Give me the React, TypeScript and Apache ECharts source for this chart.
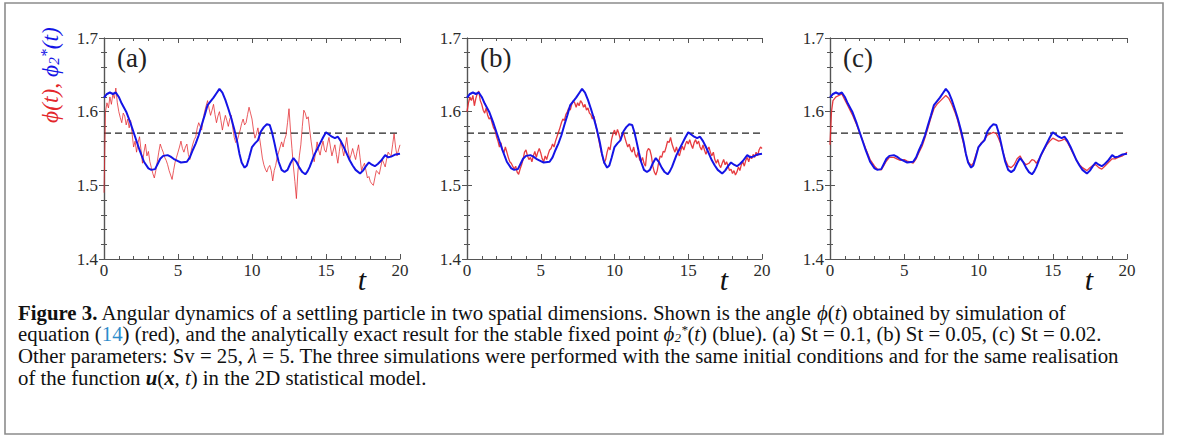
import React, { useEffect, useRef } from "react";
import * as echarts from "echarts";

// φ2*(t): analytic stable fixed point (identical in all three panels)
const T_FIXED = [0, 0.2, 0.4, 0.6, 0.8, 1.0, 1.2, 1.5, 1.8, 2.1, 2.4, 2.7, 3.0, 3.2, 3.45, 3.6, 3.8, 4.0, 4.3, 4.5, 4.7, 5.0, 5.2, 5.6, 5.8, 6.0, 6.2, 6.4, 6.6, 6.8, 7.0, 7.2, 7.4, 7.6, 7.8, 8.0, 8.2, 8.4, 8.6, 8.8, 9.0, 9.15, 9.3, 9.5, 9.65, 9.8, 10.0, 10.2, 10.4, 10.6, 10.8, 11.0, 11.2, 11.35, 11.5, 11.65, 11.8, 12.0, 12.2, 12.4, 12.6, 12.8, 13.0, 13.2, 13.4, 13.6, 13.75, 13.9, 14.2, 14.4, 14.6, 14.8, 15.0, 15.2, 15.4, 15.6, 15.8, 16.0, 16.2, 16.4, 16.6, 16.8, 17.0, 17.3, 17.5, 17.7, 17.9, 18.1, 18.3, 18.5, 18.7, 19.0, 19.2, 19.4, 19.7, 20.0];
const PHI_FIXED = [1.619, 1.624, 1.626, 1.624, 1.626, 1.620, 1.611, 1.600, 1.584, 1.566, 1.548, 1.532, 1.523, 1.521, 1.522, 1.528, 1.536, 1.540, 1.541, 1.539, 1.536, 1.533, 1.531, 1.532, 1.538, 1.548, 1.557, 1.568, 1.582, 1.595, 1.609, 1.614, 1.619, 1.625, 1.631, 1.626, 1.616, 1.604, 1.591, 1.576, 1.559, 1.543, 1.531, 1.524, 1.527, 1.537, 1.552, 1.557, 1.561, 1.573, 1.579, 1.583, 1.582, 1.572, 1.559, 1.545, 1.532, 1.521, 1.518, 1.521, 1.530, 1.537, 1.532, 1.524, 1.518, 1.515, 1.519, 1.525, 1.541, 1.549, 1.557, 1.565, 1.572, 1.569, 1.566, 1.564, 1.566, 1.560, 1.552, 1.543, 1.534, 1.527, 1.521, 1.516, 1.520, 1.526, 1.531, 1.528, 1.526, 1.529, 1.533, 1.541, 1.538, 1.539, 1.542, 1.543];

// φ(t) sampled every 0.1 time units, St = 0.1
const DT = 0.1;
const PHI_A = [
  1.490, 1.600, 1.612, 1.605, 1.620, 1.610, 1.624, 1.618, 1.632, 1.612,
  1.600, 1.592, 1.585, 1.598, 1.594, 1.582, 1.590, 1.578, 1.588, 1.570,
  1.552, 1.560, 1.545, 1.558, 1.566, 1.548, 1.530, 1.545, 1.556, 1.540,
  1.546, 1.532, 1.524, 1.516, 1.510, 1.520, 1.532, 1.545, 1.556, 1.550,
  1.545, 1.538, 1.534, 1.528, 1.520, 1.514, 1.508, 1.520, 1.531, 1.538,
  1.545, 1.552, 1.560, 1.550, 1.545, 1.552, 1.556, 1.542, 1.535, 1.548,
  1.556, 1.562, 1.566, 1.578, 1.585, 1.580, 1.575, 1.590, 1.600, 1.608,
  1.615, 1.604, 1.595, 1.602, 1.610, 1.596, 1.585, 1.594, 1.600, 1.588,
  1.575, 1.586, 1.595, 1.588, 1.580, 1.590, 1.595, 1.578, 1.565, 1.558,
  1.560, 1.568, 1.575, 1.584, 1.590, 1.582, 1.585, 1.596, 1.606, 1.598,
  1.590, 1.575, 1.564, 1.570, 1.578, 1.566, 1.552, 1.537, 1.528, 1.522,
  1.518, 1.524, 1.527, 1.520, 1.506, 1.520, 1.527, 1.538, 1.545, 1.552,
  1.559, 1.552, 1.562, 1.568, 1.585, 1.604, 1.575, 1.550, 1.525, 1.505,
  1.482, 1.518, 1.540, 1.555, 1.580, 1.602, 1.598, 1.590, 1.593, 1.575,
  1.559, 1.545, 1.532, 1.545, 1.559, 1.548, 1.541, 1.552, 1.560, 1.548,
  1.545, 1.556, 1.565, 1.552, 1.540, 1.548, 1.555, 1.542, 1.530, 1.546,
  1.560, 1.550, 1.540, 1.552, 1.565, 1.548, 1.535, 1.542, 1.550, 1.542,
  1.535, 1.546, 1.555, 1.538, 1.520, 1.526, 1.530, 1.520, 1.510, 1.512,
  1.505, 1.502, 1.500, 1.510, 1.520, 1.518, 1.515, 1.525, 1.535, 1.530,
  1.525, 1.536, 1.545, 1.542, 1.540, 1.555, 1.570, 1.552, 1.540, 1.548,
  1.555,
];

// φ(t) sampled every 0.1 time units, St = 0.05
const PHI_B = [
  1.600, 1.612, 1.620, 1.615, 1.622, 1.608, 1.618, 1.625, 1.628, 1.615,
  1.610, 1.602, 1.598, 1.605, 1.595, 1.590, 1.592, 1.585, 1.578, 1.575,
  1.566, 1.560, 1.552, 1.558, 1.548, 1.544, 1.552, 1.545, 1.538, 1.532,
  1.530, 1.526, 1.522, 1.526, 1.518, 1.515, 1.522, 1.528, 1.535, 1.545,
  1.548, 1.540, 1.535, 1.538, 1.532, 1.540, 1.546, 1.538, 1.545, 1.550,
  1.544, 1.536, 1.532, 1.540, 1.535, 1.542, 1.548, 1.550, 1.556, 1.552,
  1.560, 1.566, 1.572, 1.578, 1.585, 1.590, 1.588, 1.596, 1.600, 1.605,
  1.602, 1.610, 1.615, 1.612, 1.606, 1.612, 1.608, 1.615, 1.612, 1.606,
  1.610, 1.602, 1.605, 1.598, 1.596, 1.590, 1.594, 1.585, 1.575, 1.565,
  1.555, 1.545, 1.538, 1.530, 1.535, 1.545, 1.552, 1.548, 1.562, 1.570,
  1.575, 1.568, 1.576, 1.570, 1.562, 1.568, 1.572, 1.565, 1.558, 1.552,
  1.556, 1.548, 1.545, 1.552, 1.542, 1.538, 1.545, 1.535, 1.532, 1.538,
  1.530, 1.526, 1.546, 1.550, 1.548, 1.540, 1.526, 1.518, 1.514, 1.520,
  1.532, 1.540, 1.538, 1.546, 1.545, 1.552, 1.560, 1.558, 1.565, 1.556,
  1.550, 1.545, 1.552, 1.544, 1.540, 1.548, 1.553, 1.548, 1.555, 1.560,
  1.556, 1.562, 1.555, 1.550, 1.558, 1.562, 1.556, 1.560, 1.552, 1.548,
  1.555, 1.548, 1.542, 1.548, 1.552, 1.545, 1.540, 1.545, 1.535, 1.530,
  1.535, 1.528, 1.524, 1.530, 1.535, 1.528, 1.532, 1.526, 1.520, 1.522,
  1.516, 1.520, 1.514, 1.518, 1.525, 1.520, 1.528, 1.532, 1.526, 1.534,
  1.538, 1.532, 1.540, 1.536, 1.542, 1.538, 1.545, 1.540, 1.548, 1.552,
  1.550,
];

// φ(t) for St = 0.02, closely tracking the fixed point
const T_C = [0, 0.1, 0.2, 0.4, 0.6, 0.8, 1.0, 1.2, 1.5, 1.8, 2.1, 2.4, 2.7, 3.0, 3.2, 3.45, 3.6, 3.8, 4.0, 4.3, 4.5, 4.7, 5.0, 5.2, 5.6, 5.8, 6.0, 6.2, 6.4, 6.6, 6.8, 7.0, 7.2, 7.4, 7.6, 7.8, 8.0, 8.2, 8.4, 8.6, 8.8, 9.0, 9.15, 9.3, 9.5, 9.65, 9.8, 10.0, 10.2, 10.4, 10.6, 10.8, 11.0, 11.2, 11.35, 11.5, 11.65, 11.8, 12.0, 12.2, 12.4, 12.6, 12.8, 13.0, 13.2, 13.4, 13.6, 13.75, 13.9, 14.2, 14.4, 14.6, 14.8, 15.0, 15.2, 15.4, 15.6, 15.8, 16.0, 16.2, 16.4, 16.6, 16.8, 17.0, 17.3, 17.5, 17.7, 17.9, 18.1, 18.3, 18.5, 18.7, 19.0, 19.2, 19.4, 19.7, 20.0];
const PHI_C = [1.555, 1.600, 1.615, 1.620, 1.622, 1.624, 1.616, 1.608, 1.596, 1.582, 1.566, 1.550, 1.535, 1.526, 1.522, 1.521, 1.526, 1.533, 1.538, 1.538, 1.536, 1.534, 1.535, 1.533, 1.530, 1.536, 1.545, 1.553, 1.565, 1.578, 1.592, 1.604, 1.610, 1.614, 1.618, 1.622, 1.618, 1.610, 1.600, 1.588, 1.572, 1.556, 1.542, 1.532, 1.527, 1.530, 1.540, 1.552, 1.558, 1.562, 1.568, 1.570, 1.572, 1.570, 1.564, 1.556, 1.545, 1.535, 1.526, 1.524, 1.528, 1.536, 1.540, 1.532, 1.528, 1.530, 1.535, 1.534, 1.530, 1.540, 1.548, 1.555, 1.560, 1.564, 1.562, 1.560, 1.561, 1.563, 1.558, 1.550, 1.542, 1.534, 1.528, 1.524, 1.520, 1.524, 1.527, 1.528, 1.524, 1.522, 1.526, 1.530, 1.536, 1.536, 1.538, 1.540, 1.545];

const HALF_PI = Math.PI / 2;
const PANEL_TAGS = ["(a)", "(b)", "(c)"];
const X_RANGE = [0, 20];
const Y_RANGE = [1.4, 1.7];

const SERIF = "Liberation Serif";
const RED = "#e3262b";
const BLUE = "#1414e6";
const INK = "#2c2c2c";

const PANELS = [
  { left: 104, width: 296 },
  { left: 467, width: 295 },
  { left: 830, width: 297 },
];
const TOP = 38;
const HEIGHT = 221;

const sampled = (vals: number[]) => vals.map((v, i) => [+(i * DT).toFixed(2), v]);
const paired = (ts: number[], vals: number[]) => ts.map((t, i) => [t, vals[i]]);

const REDS = [sampled(PHI_A), sampled(PHI_B), paired(T_C, PHI_C)];
const FIXED = paired(T_FIXED, PHI_FIXED);

function App() {
  const ref = useRef<HTMLDivElement>(null);

  useEffect(() => {
    if (!ref.current) return;
    const chart = echarts.init(ref.current, null, { renderer: "svg" });

    const axisLine = { lineStyle: { color: "#555", width: 1.2 } };
    const tick = { inside: true, length: 5, lineStyle: { color: "#555", width: 1 } };
    const minor = { show: true, splitNumber: 5, length: 3, lineStyle: { color: "#555", width: 1 } };
    const tickText = { fontFamily: SERIF, fontSize: 17, fill: INK, color: INK };

    const grid: any[] = [];
    const xAxis: any[] = [];
    const yAxis: any[] = [];
    const series: any[] = [];
    const graphic: any[] = [];

    PANELS.forEach((p, i) => {
      grid.push({ left: p.left, top: TOP, width: p.width, height: HEIGHT, containLabel: false });
      const xBase = {
        gridIndex: i, type: "value", min: X_RANGE[0], max: X_RANGE[1], interval: 5,
        axisLine, axisTick: tick, minorTick: minor, splitLine: { show: false },
      };
      const yBase = {
        gridIndex: i, type: "value", min: Y_RANGE[0], max: Y_RANGE[1], interval: 0.1,
        axisLine, axisTick: tick, minorTick: minor, splitLine: { show: false },
      };
      xAxis.push({
        ...xBase, position: "bottom",
        axisLabel: {
          show: true, margin: 3, fontSize: 17, fontFamily: SERIF, color: INK,
          formatter: (v: number) => `{n|${v}}`,
          rich: { n: tickText },
        },
      });
      xAxis.push({ ...xBase, position: "top", axisLabel: { show: false } });
      yAxis.push({
        ...yBase, position: "left",
        axisLabel: {
          show: true, margin: 6, fontSize: 17, fontFamily: SERIF, color: INK,
          formatter: (v: number) => `{n|${v.toFixed(1)}}`,
          rich: { n: tickText },
        },
      });
      yAxis.push({ ...yBase, position: "right", axisLabel: { show: false } });

      const xi = 2 * i;
      series.push({
        type: "line", xAxisIndex: xi, yAxisIndex: xi, data: [[X_RANGE[0], HALF_PI], [X_RANGE[1], HALF_PI]],
        showSymbol: false, silent: true,
        lineStyle: { color: "#222", width: 1.3, type: [7, 4] },
      });
      series.push({
        type: "line", xAxisIndex: xi, yAxisIndex: xi, data: REDS[i],
        showSymbol: false, silent: true,
        lineStyle: { color: RED, width: i === 0 ? 1 : 1.3, opacity: i === 0 ? 0.75 : 0.9 },
      });
      series.push({
        type: "line", xAxisIndex: xi, yAxisIndex: xi, data: FIXED,
        showSymbol: false, silent: true,
        lineStyle: { color: BLUE, width: 2 },
      });

      graphic.push({
        type: "text", x: p.left + 13, y: 58,
        style: { text: PANEL_TAGS[i], font: `27px ${SERIF}`, fill: "#222", verticalAlign: "middle", align: "left" },
      });
      graphic.push({
        type: "text", x: p.left + p.width - 38, y: 279,
        style: { text: "t", font: `italic 30px ${SERIF}`, fill: "#111", verticalAlign: "middle", align: "center" },
      });
    });

    // rotated y-axis title: φ(t) in red, φ2*(t) in blue
    const yt = (extra: any) => ({ fontFamily: SERIF, fontStyle: "italic", fontSize: 23.5, ...extra });
    graphic.push({
      type: "text", x: 50, y: 123, rotation: Math.PI / 2,
      style: {
        text: "{r|ϕ(t),} {b|ϕ}{s|2}{u|*}{b|(t)}",
        align: "left", verticalAlign: "middle",
        font: `italic 23.5px ${SERIF}`,
        rich: {
          r: yt({ fill: RED }),
          b: yt({ fill: BLUE }),
          s: yt({ fill: BLUE, fontSize: 15, verticalAlign: "bottom" }),
          u: yt({ fill: BLUE, fontSize: 16, verticalAlign: "top" }),
        },
      },
    });

    // outer frame
    graphic.push({
      type: "rect", shape: { x: 5, y: 3, width: 1158, height: 431 },
      style: { fill: "none", stroke: "#8c8c8c", lineWidth: 1.6 },
    });

    // caption
    const fs = 20.8;
    const lh = 21;
    const cs = (extra: any) => ({ fontFamily: SERIF, fontSize: fs, fill: "#111", lineHeight: lh, ...extra });
    const rich = {
      n: cs({}),
      b: cs({ fontWeight: "bold" }),
      i: cs({ fontStyle: "italic" }),
      bi: cs({ fontStyle: "italic", fontWeight: "bold" }),
      l: cs({ fill: "#2b8ccb" }),
      sub: cs({ fontSize: 13, lineHeight: 13, verticalAlign: "bottom", fontStyle: "italic" }),
      sup: cs({ fontSize: 13, lineHeight: 13, verticalAlign: "top", fontStyle: "italic" }),
    };
    const lines = [
      "{b|Figure 3.}{n| Angular dynamics of a settling particle in two spatial dimensions. Shown is the angle }{i|ϕ}{n|(}{i|t}{n|) obtained by simulation of}",
      "{n|equation (}{l|14}{n|) (red), and the analytically exact result for the stable fixed point }{i|ϕ}{sub|2}{sup|*}{n|(}{i|t}{n|) (blue). (a) St = 0.1, (b) St = 0.05, (c) St = 0.02.}",
      "{n|Other parameters: Sv = 25, }{i|λ}{n| = 5. The three simulations were performed with the same initial conditions and for the same realisation}",
      "{n|of the function }{bi|u}{n|(}{bi|x}{n|, }{i|t}{n|) in the 2D statistical model.}",
    ];
    const lineY = [312, 333.5, 355.5, 377];
    lines.forEach((txt, k) => {
      graphic.push({
        type: "text", x: 18, y: lineY[k],
        style: { text: txt, rich, font: `${fs}px ${SERIF}`, fill: "#111", lineHeight: lh, align: "left", verticalAlign: "middle" },
      });
    });

    chart.setOption({
      animation: false,
      backgroundColor: "#ffffff",
      grid, xAxis, yAxis, series, graphic,
    });
    return () => chart.dispose();
  }, []);

  return (
    <div
      ref={ref}
      style={{ position: "fixed", left: 0, top: 0, width: 1179, height: 439, background: "#fff" }}
    />
  );
}

export default App;
